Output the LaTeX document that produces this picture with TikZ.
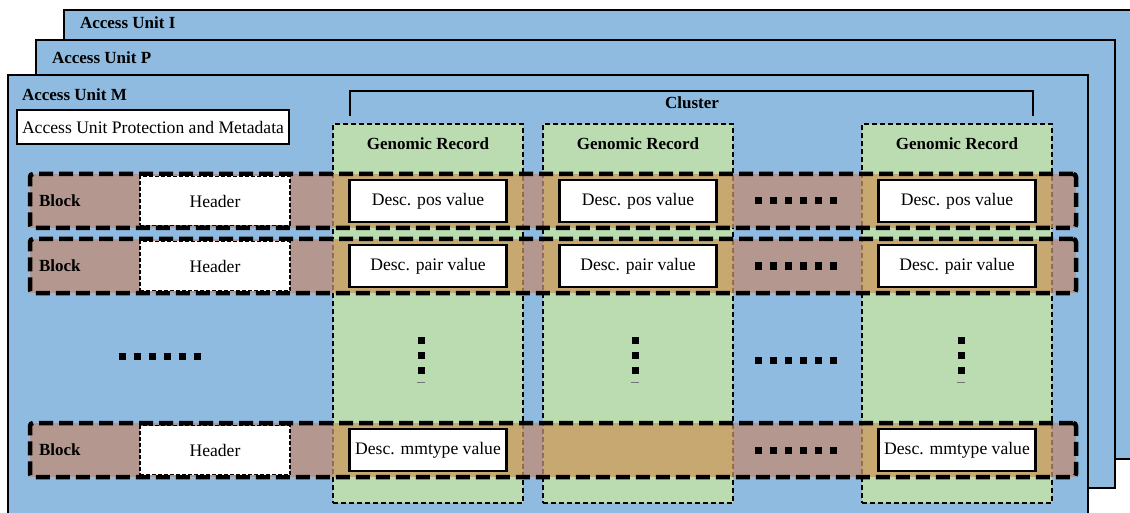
\documentclass[tikz,border=0pt]{standalone}
\usepackage{fontspec}
\setmainfont{Liberation Serif}
\usepackage{tikz}
\usetikzlibrary{positioning, calc}

\definecolor{unitblue}{RGB}{142,187,223}
\definecolor{recordgreen}{RGB}{186,220,176}
\definecolor{blockrose}{RGB}{193,139,116}
\definecolor{blocktan}{RGB}{206,151,92}

\begin{document}
\begin{tikzpicture}[x=1pt, y=-1pt,
  every node/.style={inner sep=0pt, outer sep=0pt, font=\fontsize{17.6}{20}\selectfont},
  unit/.style={draw, line width=1.6pt, fill=unitblue, anchor=north west},
  unittitle/.style={anchor=west, font=\fontsize{17}{20}\selectfont\bfseries},
  plainbox/.style={draw, line width=2.2pt, fill=white, minimum width=272, minimum height=34, anchor=north west},
  record/.style={draw, dash pattern=on 5pt off 3pt, line width=1.6pt, fill=recordgreen, minimum width=190, minimum height=379, anchor=north west},
  blockrow/.style={draw, line width=4.5pt, dash pattern=on 14pt off 6pt, rounded corners=3pt, minimum width=1046, minimum height=54, anchor=north west},
  header/.style={draw, fill=white, line width=1.4pt, dash pattern=on 4pt off 2pt, minimum width=150, minimum height=49},
  desc/.style={draw, fill=white, line width=2.4pt, minimum width=157, minimum height=42},
  dotrow/.style={line width=7pt, dash pattern=on 7pt off 8pt},
  cellrose/.style={fill=blockrose, fill opacity=0.75},
  celltan/.style={fill=blocktan, fill opacity=0.75}
]
  \useasboundingbox (0,0) rectangle (1130,513);
  \clip (0,0) rectangle (1130,513);

  % access units, back to front
  \node[unit, minimum width=1100, minimum height=449] (auI) at (64,10) {};
  \node[unittitle] (auItitle) at (80,23) {Access Unit I};
  \node[unit, minimum width=1079, minimum height=448] (auP) at (36,40) {};
  \node[unittitle] (auPtitle) at (52,58) {Access Unit P};
  \node[unit, minimum width=1080, minimum height=470] (auM) at (8,75) {};
  \node[unittitle] (auMtitle) at (22,95) {Access Unit M};

  \node[plainbox] (protect) at (17,110) {Access Unit Protection and Metadata};

  % cluster bracket
  \coordinate (clusterL) at (350,116);
  \coordinate (clusterR) at (1033,116);
  \draw[line width=1.6pt] (clusterL) -- (clusterL |- 0,91) -- (clusterR |- 0,91) -- (clusterR);
  \node[unittitle, anchor=center] (cluster) at (692,103) {Cluster};

  % genomic records
  \node[record] (gr1) at (333,124) {};
  \node[record] (gr2) at (543,124) {};
  \node[record] (gr3) at (862,124) {};
  \node[unittitle, anchor=center] (gr1title) at ($(gr1.north)+(0,20)$) {Genomic Record};
  \node[unittitle, anchor=center] (gr2title) at ($(gr2.north)+(0,20)$) {Genomic Record};
  \node[unittitle, anchor=center] (gr3title) at ($(gr3.north)+(0,20)$) {Genomic Record};

  % block rows
  \foreach \ya/\yb in {174/228, 239/293, 423/477} {
    \foreach \xa/\xb in {30/333, 523/543, 733/862, 1052/1076}
      \fill[cellrose] (\xa,\ya) rectangle (\xb,\yb);
    \foreach \xa/\xb in {333/523, 543/733, 862/1052}
      \fill[celltan] (\xa,\ya) rectangle (\xb,\yb);
  }
  \node[blockrow] (row1) at (30,174) {};
  \node[blockrow] (row2) at (30,239) {};
  \node[blockrow] (row3) at (30,423) {};

  \node[unittitle, right=9pt of row1.west] (block1) {Block};
  \node[unittitle, right=9pt of row2.west] (block2) {Block};
  \node[unittitle, right=9pt of row3.west] (block3) {Block};

  \node[header] (head1) at (215,0 |- row1.center) {Header};
  \node[header] (head2) at (215,0 |- row2.center) {Header};
  \node[header] (head3) at (215,0 |- row3.center) {Header};

  \node[desc] (pos1) at (gr1.center |- row1.center) {Desc. pos value};
  \node[desc] (pos2) at (gr2.center |- row1.center) {Desc. pos value};
  \node[desc] (pos3) at (gr3.center |- row1.center) {Desc. pos value};
  \node[desc] (pair1) at (gr1.center |- row2.center) {Desc. pair value};
  \node[desc] (pair2) at (gr2.center |- row2.center) {Desc. pair value};
  \node[desc] (pair3) at (gr3.center |- row2.center) {Desc. pair value};
  \node[desc] (mm1) at (gr1.center |- row3.center) {Desc. mmtype value};
  \node[desc] (mm3) at (gr3.center |- row3.center) {Desc. mmtype value};

  % dots
  \draw[dotrow] (755,0 |- row1.center) -- (837,0 |- row1.center);
  \draw[dotrow] (755,0 |- row2.center) -- (837,0 |- row2.center);
  \draw[dotrow] (755,0 |- row3.center) -- (837,0 |- row3.center);
  \draw[dotrow] (119,356) -- (201,356);
  \draw[dotrow] (755,360) -- (837,360);
  \draw[dotrow] (421,337) -- (421,374);
  \draw[dotrow] (635,337) -- (635,374);
  \draw[dotrow] (961,337) -- (961,374);
  \draw[line width=1pt, black!55] (417,382) -- (425,382);
  \draw[line width=1pt, black!55] (631,382) -- (639,382);
  \draw[line width=1pt, black!55] (957,382) -- (965,382);
\end{tikzpicture}
\end{document}
